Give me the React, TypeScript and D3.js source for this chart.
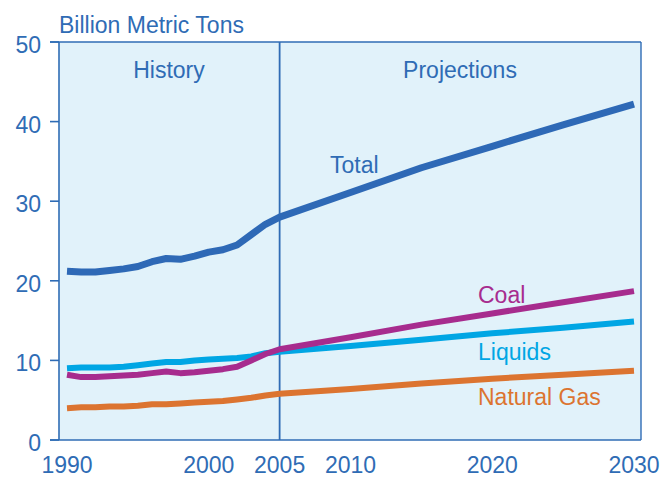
import React from "react";
import * as d3 from "d3";

const years = [1990, 1991, 1992, 1993, 1994, 1995, 1996, 1997, 1998, 1999, 2000, 2001, 2002, 2003, 2004, 2005, 2010, 2015, 2020, 2025, 2030];
const total = [21.2, 21.1, 21.1, 21.3, 21.5, 21.8, 22.4, 22.8, 22.7, 23.1, 23.6, 23.9, 24.5, 25.8, 27.1, 28.0, 31.1, 34.2, 36.9, 39.6, 42.2];
const coal = [8.2, 7.9, 7.9, 8.0, 8.1, 8.2, 8.4, 8.6, 8.4, 8.5, 8.7, 8.9, 9.2, 10.0, 10.8, 11.4, 12.9, 14.5, 15.9, 17.3, 18.7];
const liquids = [9.0, 9.1, 9.1, 9.1, 9.2, 9.4, 9.6, 9.8, 9.8, 10.0, 10.1, 10.2, 10.3, 10.5, 10.9, 11.1, 11.8, 12.6, 13.4, 14.1, 14.9];
const naturalGas = [4.0, 4.1, 4.1, 4.2, 4.2, 4.3, 4.5, 4.5, 4.6, 4.7, 4.8, 4.9, 5.1, 5.3, 5.6, 5.8, 6.4, 7.1, 7.7, 8.2, 8.7];
const yTicks = [0, 10, 20, 30, 40, 50];
const xTicks = [1990, 2000, 2005, 2010, 2020, 2030];
const seriesNames = ["Total", "Coal", "Liquids", "Natural Gas"];
const dividerYear = 2005;

const BLUE = "#2f6cb5";
const FONT = "'Liberation Sans', Arial, Helvetica, sans-serif";

export default function App() {
  const x = d3.scaleLinear().domain([1990, 2030]).range([67, 634]);
  const y = d3.scaleLinear().domain([0, 50]).range([440, 42]);
  const plotL = 59;
  const plotR = 641;

  const series = [
    { name: seriesNames[0], values: total, color: "#2e69b6", width: 7 },
    { name: seriesNames[1], values: coal, color: "#a72c8e", width: 6 },
    { name: seriesNames[2], values: liquids, color: "#00a6e4", width: 6 },
    { name: seriesNames[3], values: naturalGas, color: "#dc7430", width: 6 },
  ];

  const line = (vals: number[]) =>
    d3
      .line<number>()
      .x((_, i) => x(years[i]))
      .y((d) => y(d))(vals) as string;

  const labels = [
    { text: seriesNames[0], x: 330, y: 173, color: BLUE },
    { text: seriesNames[1], x: 478, y: 303, color: "#a72c8e" },
    { text: seriesNames[2], x: 478, y: 360, color: "#00a6e4" },
    { text: seriesNames[3], x: 478, y: 405, color: "#dc7430" },
  ];

  return (
    <svg
      width={662}
      height={477}
      style={{ position: "absolute", left: 0, top: 0, display: "block" }}
      fontFamily={FONT}
    >
      <rect x={0} y={0} width={662} height={477} fill="#ffffff" />
      <rect x={plotL} y={y(50)} width={plotR - plotL} height={y(0) - y(50)} fill="#e1f2fa" />
      {/* borders */}
      <line x1={50} x2={plotR} y1={y(50)} y2={y(50)} stroke={BLUE} strokeWidth={1.6} />
      <line x1={50} x2={plotR} y1={y(0)} y2={y(0)} stroke={BLUE} strokeWidth={1.6} />
      <line x1={plotL} x2={plotL} y1={y(50)} y2={y(0)} stroke={BLUE} strokeWidth={1.6} />
      <line x1={plotR} x2={plotR} y1={y(50)} y2={y(0)} stroke={BLUE} strokeWidth={1.4} />
      <line x1={x(dividerYear)} x2={x(dividerYear)} y1={y(50)} y2={y(0)} stroke={BLUE} strokeWidth={1.8} />
      {/* y ticks */}
      {yTicks.map((t) => (
        <g key={t}>
          <line x1={50} x2={plotL} y1={y(t)} y2={y(t)} stroke={BLUE} strokeWidth={1.6} />
          <text x={41} y={y(t) + 11} textAnchor="end" fontSize={23} fill={BLUE}>
            {t}
          </text>
        </g>
      ))}
      {/* x tick labels */}
      {xTicks.map((t) => (
        <text key={t} x={x(t)} y={473} textAnchor="middle" fontSize={23} fill={BLUE}>
          {t}
        </text>
      ))}
      <text x={59} y={33} fontSize={23} fill={BLUE}>
        Billion Metric Tons
      </text>
      <text x={169} y={78} textAnchor="middle" fontSize={23} fill={BLUE}>
        History
      </text>
      <text x={460} y={78} textAnchor="middle" fontSize={23} fill={BLUE}>
        Projections
      </text>
      {/* series lines */}
      {series
        .slice()
        .reverse()
        .map((s) => (
          <path
            key={s.name}
            d={line(s.values)}
            fill="none"
            stroke={s.color}
            strokeWidth={s.width}
            strokeLinejoin="round"
          />
        ))}
      {labels.map((l) => (
        <text key={l.text} x={l.x} y={l.y} fontSize={23} fill={l.color}>
          {l.text}
        </text>
      ))}
    </svg>
  );
}
